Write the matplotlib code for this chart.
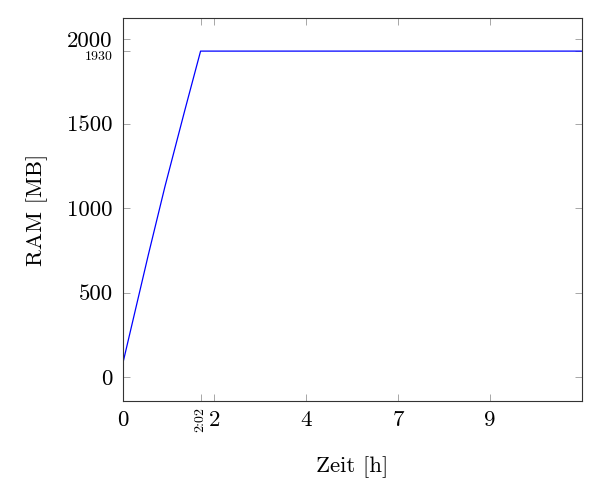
import matplotlib.pyplot as plt

# RAM usage over time (seconds -> labelled in hours)
zeit_s = [0, 2250, 3700, 5440, 6800, 40000]
ram_mb = [73, 724, 1129, 1583, 1930, 1930]

xtick_pos = [0, 8000, 16000, 24000, 32000]
xtick_labels = ['0', '2', '4', '7', '9']
ytick_pos = [0, 500, 1000, 1500, 2000]
ytick_labels = ['0', '500', '1000', '1500', '2000']

extra_x = [6800]
extra_x_labels = ['2:02']
extra_y = [1930]
extra_y_labels = ['1930']

plt.rcParams['font.family'] = 'cmr10'
plt.rcParams['axes.formatter.use_mathtext'] = True

fig = plt.figure(figsize=(5.95, 4.96), dpi=100)
ax = fig.add_axes([0.2059, 0.1915, 0.9777 - 0.2059, 0.9637 - 0.1915])

ax.plot(zeit_s, ram_mb, color='blue', linewidth=0.9)

ax.set_xlim(0, 40000)
ax.set_ylim(-142, 2126)

ax.set_xticks(xtick_pos, xtick_labels)
ax.set_yticks(ytick_pos, ytick_labels)
ax.set_xticks(extra_x, extra_x_labels, minor=True)
ax.set_yticks(extra_y, extra_y_labels, minor=True)

ax.tick_params(which='both', direction='in', length=5, width=0.6, color='#999999',
               top=True, right=True)
ax.tick_params(which='major', labelsize=16.5, pad=7)
ax.tick_params(axis='x', which='minor', labelsize=10, labelrotation=90, pad=4)
ax.tick_params(axis='y', which='minor', labelsize=10, pad=7)
for lab in ax.get_yticklabels(minor=True):
    lab.set_verticalalignment('top')

for sp in ax.spines.values():
    sp.set_linewidth(0.8)
    sp.set_color('#333333')

ax.set_xlabel('Zeit [h]', fontsize=16.5, labelpad=18)
ax.set_ylabel('RAM [MB]', fontsize=16.5, labelpad=14)

fig.savefig('out.png', dpi=100)
